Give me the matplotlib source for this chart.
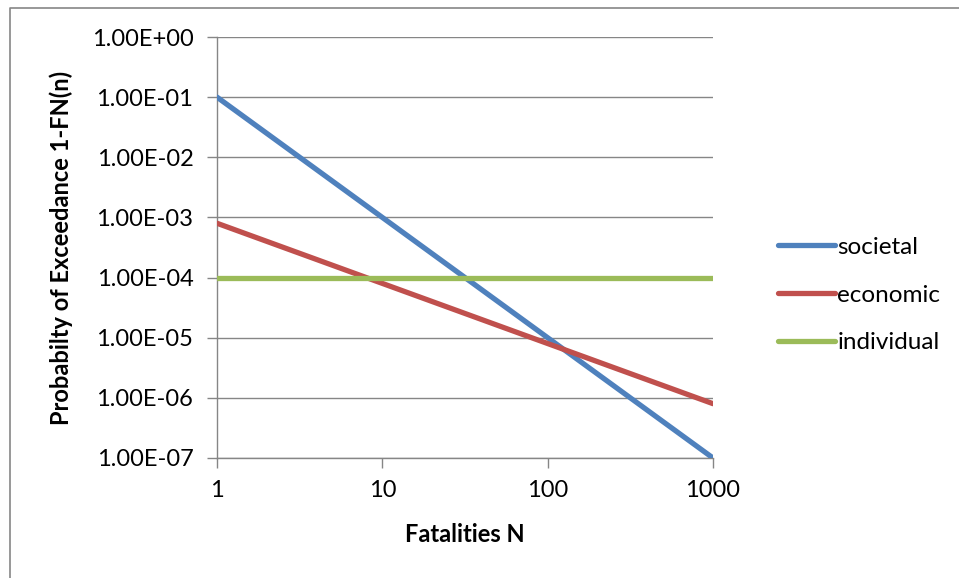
import matplotlib
matplotlib.use("Agg")
import matplotlib.pyplot as plt
from matplotlib.ticker import FixedLocator, FuncFormatter, NullLocator
from matplotlib.lines import Line2D

# -----------------------
# Data
# -----------------------
fatalities = [1, 10, 100, 1000]
societal = [1.0e-1, 1.0e-3, 1.0e-5, 1.0e-7]
economic = [8.0e-4, 8.0e-5, 8.0e-6, 8.0e-7]
individual = [1.0e-4, 1.0e-4, 1.0e-4, 1.0e-4]

series_names = ["societal", "economic", "individual"]
colors = ["#4F81BD", "#C0504D", "#9BBB59"]

y_ticks = [1e0, 1e-1, 1e-2, 1e-3, 1e-4, 1e-5, 1e-6, 1e-7]
x_tick_labels = ["1", "10", "100", "1000"]

# -----------------------
# Figure
# -----------------------
plt.rcParams["font.family"] = ["Lato", "DejaVu Sans"]
W, H = 959, 578
FS = 17
fig = plt.figure(figsize=(W / 100, H / 100), dpi=100)
ax = fig.add_axes([217 / W, (H - 458) / H, (713 - 217) / W, (458 - 37) / H])

grid_c = "#868686"
for vals, name, c in zip([societal, economic, individual], series_names, colors):
    ax.plot(fatalities, vals, color=c, lw=3.8, label=name, solid_capstyle="round", zorder=3)

ax.set_xscale("log")
ax.set_yscale("log")
ax.set_xlim(1, 1000)
ax.set_ylim(1e-7, 1e0)

ax.xaxis.set_major_locator(FixedLocator(fatalities))
ax.xaxis.set_major_formatter(FuncFormatter(lambda v, p: x_tick_labels[fatalities.index(int(round(v)))]))
ax.xaxis.set_minor_locator(NullLocator())
ax.yaxis.set_major_locator(FixedLocator(y_ticks))
ax.yaxis.set_major_formatter(FuncFormatter(lambda v, p: "%.2E" % v))
ax.yaxis.set_minor_locator(NullLocator())

ax.tick_params(axis="both", direction="out", length=7, width=1, color=grid_c,
               labelsize=FS, colors=grid_c, labelcolor="black")
ax.tick_params(axis="y", pad=10)
ax.tick_params(axis="x", pad=9)

ax.grid(axis="y", color=grid_c, lw=1)
ax.set_axisbelow(True)
for s in ["top", "right"]:
    ax.spines[s].set_visible(False)
for s in ["left", "bottom"]:
    ax.spines[s].set_color(grid_c)
    ax.spines[s].set_linewidth(1)

ax.set_xlabel("Fatalities N", fontsize=FS, fontweight="bold")
ax.xaxis.set_label_coords(0.5, (458 - 535) / 421)
ax.xaxis.label.set_va("center")
ax.set_ylabel("Probabilty of Exceedance 1-FN(n)", fontsize=FS, fontweight="bold")
ax.yaxis.set_label_coords((61 - 217) / 496, 0.5)
ax.yaxis.label.set_va("center")

# legend
ax.legend(loc="center left", bbox_to_anchor=(756 / W, (H - 295) / H),
          bbox_transform=fig.transFigure, frameon=False, fontsize=17.5,
          handlelength=2.35, handletextpad=0.1, labelspacing=1.1)

# chart area border (only left/top visible in the crop)
fig.add_artist(Line2D([9.5 / W, 9.5 / W, 1], [0, 1 - 7.5 / H, 1 - 7.5 / H],
                      transform=fig.transFigure, color=grid_c, lw=1.2))

fig.savefig("out.png", dpi=100)
